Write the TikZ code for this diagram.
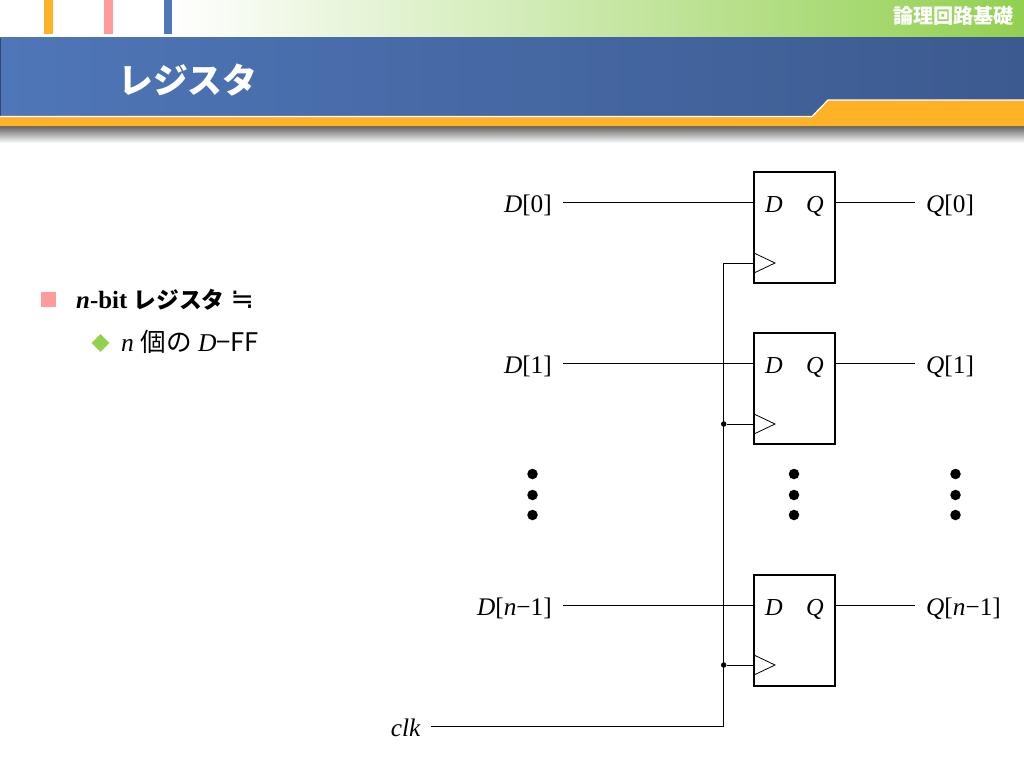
\documentclass[tikz,border=0pt]{standalone}
\usepackage{fontspec}
\setmainfont{Liberation Serif}
\newfontfamily\cjk{Noto Sans CJK JP}
\newfontfamily\symb{DejaVu Sans}
\usetikzlibrary{positioning,shapes.geometric}
\definecolor{bandgreen}{RGB}{146,208,80}
\definecolor{bandblueL}{RGB}{79,118,184}
\definecolor{bandblueR}{RGB}{60,90,143}
\definecolor{bandorange}{RGB}{255,178,38}
\definecolor{markpink}{RGB}{255,155,155}
\tikzset{
  sigtext/.style={inner sep=0pt,text height=16bp,text depth=5bp,font=\fontsize{25.4}{28}\selectfont},
  dfftext/.style={inner sep=0pt,text height=16bp,text depth=5bp,font=\fontsize{24.5}{28}\selectfont\itshape},
  dffbox/.style={draw,line width=2bp,minimum width=81bp,minimum height=111bp,inner sep=0pt},
  wire/.style={line width=1bp},
  clkmark/.style={line width=0.8bp},
  vdot/.style={circle,fill=black,inner sep=0pt,minimum size=10.5bp},
  joint/.style={circle,fill=black,inner sep=0pt,minimum size=5.5bp},
}
\begin{document}
\begin{tikzpicture}[x=1bp,y=-1bp]
  \useasboundingbox (0,0) rectangle (1024,768);
  % Band: top
  \shade [left color=white,right color=bandgreen] (170,0) rectangle (1024,38);
  \fill [bandorange] (44,0) rectangle (52.5,34);
  \fill [markpink] (104,0) rectangle (112.5,34);
  \fill [bandblueL] (163.5,0) rectangle (172,34);
  \node [text=white,inner sep=0pt,anchor=east,font=\fontsize{20.2}{22}\selectfont\cjk\bfseries] (course) at (1014,16) {論理回路基礎};
  % Band: title
  \shade [left color=bandblueL,right color=bandblueR] (0,38) rectangle (1024,118);
  \fill [bandblueR!80!black] (0,38) rectangle (1,116);
  \shade [top color=black!62,bottom color=white] (0,126) rectangle (1024,143);
  \fill [bandorange] (0,117) -- (812,117) -- (828,100) -- (1024,100) -- (1024,126) -- (0,126) -- cycle;
  \draw [white,line width=1.2bp] (0,116.5) -- (812,116.5) -- (828,100) -- (1024,100);
  \node [text=white,inner sep=0pt,anchor=west,font=\fontsize{35}{40}\selectfont\cjk\bfseries] (title) at (118,80) {レジスタ};
  % Text: bullets
  \fill [markpink] (41,292) rectangle (55.5,306.5);
  \node [diamond,fill=bandgreen,inner sep=0pt,minimum size=18bp] (mark) at (100.5,343) {};
  \node [inner sep=0pt,anchor=base west,font=\fontsize{25}{28}\selectfont\bfseries] (item0) at (76,308) {\textit{n}-bit {\fontsize{22.8}{28}\selectfont\cjk レジスタ} {\fontsize{28}{28}\selectfont\symb\mdseries ≒}};
  \node [inner sep=0pt,anchor=base west,font=\fontsize{25.7}{28}\selectfont] (item1) at (121,351) {\textit{n} {\cjk 個の} \textit{D}{\cjk −FF}};
  % Node: FF0
  \node [dffbox] (FF0) at (794.5,227.5) {};
  \node [dfftext] (FF0d) at (774,206.5) {D};
  \node [dfftext] (FF0q) at (815,206.5) {Q};
  \coordinate (FF0c) at (754,263);
  \draw [clkmark] (FF0c) ++(0,-10) -- ++(21,10) -- ++(-21,10);
  % Node: FF1
  \node [dffbox] (FF1) at (794.5,388.5) {};
  \node [dfftext] (FF1d) at (774,367.5) {D};
  \node [dfftext] (FF1q) at (815,367.5) {Q};
  \coordinate (FF1c) at (754,424);
  \draw [clkmark] (FF1c) ++(0,-10) -- ++(21,10) -- ++(-21,10);
  % Node: FF2
  \node [dffbox] (FF2) at (794.5,630.5) {};
  \node [dfftext] (FF2d) at (774,609.5) {D};
  \node [dfftext] (FF2q) at (815,609.5) {Q};
  \coordinate (FF2c) at (754,665);
  \draw [clkmark] (FF2c) ++(0,-10) -- ++(21,10) -- ++(-21,10);
  % Node: labels
  \node [sigtext,anchor=east] (D0) at (552,206.5) {\textit{D}[0]};
  \node [sigtext,anchor=east] (D1) at (552,367.5) {\textit{D}[1]};
  \node [sigtext,anchor=east] (D2) at (552,609.5) {\textit{D}[\textit{n}−1]};
  \node [sigtext,anchor=west] (Q0) at (926,206.5) {\textit{Q}[0]};
  \node [sigtext,anchor=west] (Q1) at (926,367.5) {\textit{Q}[1]};
  \node [sigtext,anchor=west] (Q2) at (926,609.5) {\textit{Q}[\textit{n}−1]};
  \node [sigtext,anchor=east] (clk) at (421,730.5) {\textit{clk}};
  % Node: dots
  \node [vdot] (a0) at (532.5,474) {};
  \node [vdot] (a1) at (532.5,495) {};
  \node [vdot] (a2) at (532.5,515) {};
  \node [vdot] (b0) at (794,474) {};
  \node [vdot] (b1) at (794,495) {};
  \node [vdot] (b2) at (794,515) {};
  \node [vdot] (c0) at (955.5,474) {};
  \node [vdot] (c1) at (955.5,495) {};
  \node [vdot] (c2) at (955.5,515) {};
  % Node: joints
  \node [joint] (J1) at (723.7,424) {};
  \node [joint] (J2) at (723.7,665) {};
  % Edge: D -> FF
  \draw [wire] ([xshift=11bp,yshift=4.5bp]D0.east) -- ([yshift=4.5bp]D0.east -| FF0.west);
  \draw [wire] ([xshift=11bp,yshift=4.5bp]D1.east) -- ([yshift=4.5bp]D1.east -| FF1.west);
  \draw [wire] ([xshift=11bp,yshift=4.5bp]D2.east) -- ([yshift=4.5bp]D2.east -| FF2.west);
  % Edge: FF -> Q
  \draw [wire] ([yshift=4.5bp]Q0.west -| FF0.east) -- ([xshift=-11bp,yshift=4.5bp]Q0.west);
  \draw [wire] ([yshift=4.5bp]Q1.west -| FF1.east) -- ([xshift=-11bp,yshift=4.5bp]Q1.west);
  \draw [wire] ([yshift=4.5bp]Q2.west -| FF2.east) -- ([xshift=-11bp,yshift=4.5bp]Q2.west);
  % Edge: clk -> FF
  \draw [wire] ([xshift=10bp,yshift=4.5bp]clk.east) -- ([yshift=4.5bp]clk.east -| J1.center) -- (FF0c -| J1.center) -- (FF0c);
  \draw [wire] (J1) -- (FF1c);
  \draw [wire] (J2) -- (FF2c);
\end{tikzpicture}
\end{document}
